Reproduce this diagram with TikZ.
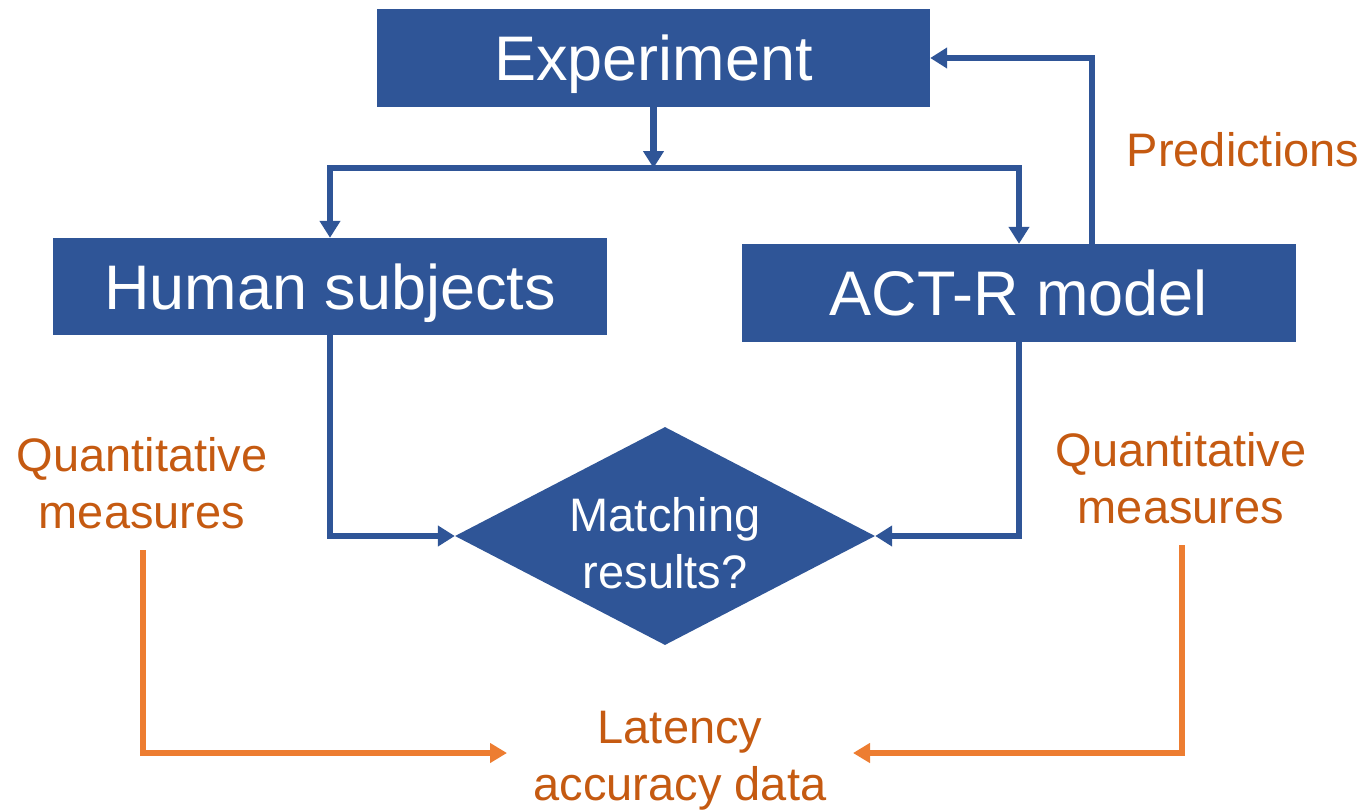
\documentclass[tikz,border=0pt]{standalone}
\usepackage{fontspec}
\setmainfont{Liberation Sans}
\usetikzlibrary{arrows.meta,shapes.geometric,calc}
\definecolor{boxblue}{HTML}{2F5597}
\definecolor{labelorange}{HTML}{C55A11}
\definecolor{lineorange}{HTML}{ED7D31}
\tikzset{
  bluebox/.style={fill=boxblue, draw=none, text=white, inner sep=0pt,
    text height=45pt, text depth=0pt,
    font=\fontsize{63}{70}\selectfont},
  decision/.style={diamond, fill=boxblue, draw=none, inner sep=0pt,
    minimum width=420pt, minimum height=218pt},
  whitelabel/.style={text=white, align=center,
    font=\fontsize{47}{57}\selectfont},
  orangelabel/.style={text=labelorange, align=center,
    font=\fontsize{47}{57}\selectfont},
  blueflow/.style={draw=boxblue, line width=6.5pt,
    -{Triangle[length=17pt,width=20pt]}},
  orangeflow/.style={draw=lineorange, line width=6pt,
    -{Triangle[length=17pt,width=19pt]}}
}
\begin{document}
\begin{tikzpicture}[x=1pt,y=-1pt]
\useasboundingbox (0,0) rectangle (1365,809);

% boxes
\node[bluebox, minimum width=553pt, minimum height=98pt] (exp) at (653.5,58) {Experiment};
\node[bluebox, minimum width=554pt, minimum height=97pt] (human) at (330,286.5) {Human subjects};
\node[bluebox, minimum width=554pt, minimum height=98pt] (actr) at (1019,293) {ACT-R model};
\node[decision] (dia) at (665,536) {};
\node[whitelabel] (diatext) at (665,543) {Matching\\results?};

% labels
\node[orangelabel] (pred) at (1243,150) {Predictions};
\node[orangelabel] (qleft) at (142,483) {Quantitative\\measures};
\node[orangelabel] (qright) at (1181,478) {Quantitative\\measures};
\node[orangelabel] (lat) at (680,761) {Latency\\accuracy data};

% experiment to both arms
\coordinate (split) at (653.5,168);
\draw[blueflow] (exp.south) -- (split);
\draw[blueflow] (split) -| (human.north);
\draw[blueflow] (split) -| (actr.north);

% predictions feed back to the experiment
\coordinate (predfoot) at ($(actr.north)+(73,0)$);
\draw[blueflow] (predfoot) |- (exp.east);

% both arms into the decision
\draw[blueflow] (human.south) |- (dia.west);
\draw[blueflow] (actr.south) |- (dia.east);

% measures into the data
\coordinate (lfoot) at (143,550);
\coordinate (rfoot) at (1182,545);
\coordinate (ltip) at (507,753);
\coordinate (rtip) at (853,753);
\draw[orangeflow] (lfoot) |- (ltip);
\draw[orangeflow] (rfoot) |- (rtip);
\end{tikzpicture}
\end{document}
